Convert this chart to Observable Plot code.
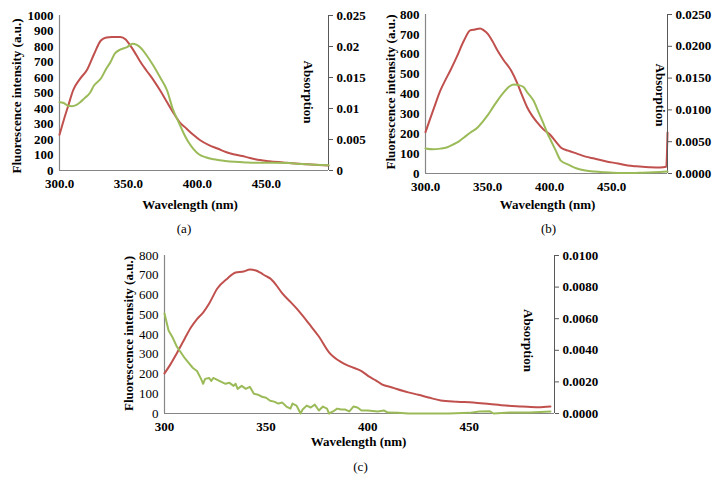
<!DOCTYPE html>
<html>
<head>
<meta charset="utf-8">
<script src="https://cdn.jsdelivr.net/npm/d3@7"></script>
<script src="https://cdn.jsdelivr.net/npm/@observablehq/plot@0.6"></script>
<style>
  html, body { margin: 0; padding: 0; background: #fff; }
  #root { position: relative; width: 720px; height: 495px; overflow: hidden; background: #fff; }
  #root svg { position: absolute; }
</style>
</head>
<body>
<div id="root"></div>
<script>
// ---------- Panel (a) ----------
const wlRedA = [300, 303, 306, 310, 315, 320, 325, 330, 334, 338, 344, 348, 351, 354, 358, 363, 368, 373, 378, 383, 387, 392, 397, 402, 408, 415, 421, 427, 435, 442, 452, 462, 471, 480, 488, 495];
const fluorA = [230, 323, 408, 520, 593, 650, 750, 839, 858, 862, 862, 845, 810, 770, 710, 645, 585, 516, 440, 366, 312, 271, 230, 195, 165, 140, 118, 103, 88, 72, 60, 52, 45, 40, 36, 32];
const wlGreenA = [300, 303, 306, 309, 312, 315, 318, 322, 325, 330, 334, 337, 340, 344, 349, 353, 356, 359, 363, 368, 373, 378, 382, 387, 390, 393, 397, 401, 406, 412, 420, 427, 435, 442, 455, 466, 476, 485, 495];
const absA = [0.0110, 0.01088, 0.01045, 0.01038, 0.01055, 0.0110, 0.01163, 0.0125, 0.0137, 0.01483, 0.01645, 0.0175, 0.01883, 0.0195, 0.0199, 0.02043, 0.02025, 0.01975, 0.01863, 0.01693, 0.0150, 0.0129, 0.0100, 0.0075, 0.0060, 0.00475, 0.0035, 0.00263, 0.00213, 0.0018, 0.00155, 0.0014, 0.0013, 0.00125, 0.00125, 0.0012, 0.00103, 0.00093, 0.00083];

// ---------- Panel (b) ----------
const wlRedB = [300, 304, 307, 312, 316, 320, 325, 331, 336, 340, 344, 347, 350, 354, 358, 363, 369, 374, 378, 382, 386, 390, 395, 401, 405, 409, 415, 422, 429, 436, 445, 455, 463, 470, 480, 489, 494, 495];
const fluorB = [208, 280, 333, 418, 470, 518, 584, 669, 720, 725, 730, 720, 704, 665, 619, 570, 518, 453, 390, 332, 290, 257, 222, 191, 160, 131, 115, 100, 85, 75, 62, 50, 40, 36, 32, 30, 34, 206];
const wlGreenB = [300, 306, 312, 317, 322, 327, 331, 336, 342, 346, 350, 354, 358, 363, 367, 371, 375, 379, 382, 385, 387, 391, 395, 398, 401, 405, 409, 415, 422, 429, 436, 445, 455, 463, 475, 489, 495];
const absB = [0.00394, 0.00381, 0.00391, 0.00409, 0.00453, 0.00506, 0.00566, 0.00641, 0.00722, 0.00813, 0.00913, 0.01031, 0.01147, 0.01275, 0.01359, 0.0140, 0.01391, 0.01359, 0.01275, 0.01203, 0.01147, 0.00969, 0.00788, 0.00641, 0.00519, 0.00359, 0.00203, 0.00141, 0.00078, 0.00047, 0.00031, 0.00019, 0.00009, 0.00006, 0.00013, 0.00025, 0.00031];

// ---------- Panel (c) ----------
const wlRedC = [300, 303, 306, 310, 313, 316, 319, 322, 326, 331, 335, 339, 342, 345, 347, 350, 352, 355, 358, 362, 365, 368, 371, 376, 381, 387, 391, 397, 401, 404, 407, 412, 420, 425, 430, 436, 444, 452, 460, 468, 476, 484, 490];
const fluorC = [203, 250, 304, 380, 435, 478, 511, 557, 633, 684, 714, 719, 729, 724, 714, 695, 684, 650, 608, 565, 532, 495, 456, 390, 310, 260, 240, 215, 185, 168, 148, 132, 107, 95, 81, 66, 60, 56, 48, 40, 36, 32, 36];
const wlGreenC = [300, 302, 304, 306, 308, 310, 312, 314, 316, 318, 319, 320, 322, 323, 324, 326, 328, 330, 332, 334, 335, 336, 338, 340, 342, 344, 346, 348, 350, 352, 354, 356, 358, 360, 362, 363, 365, 366, 367, 368, 370, 372, 374, 376, 378, 380, 381, 383, 385, 387, 389, 391, 393, 395, 397, 400, 405, 408, 410, 415, 420, 440, 450, 455, 460, 462, 470, 480, 490];
const absC = [0.00633, 0.00525, 0.00481, 0.00425, 0.00388, 0.0035, 0.00319, 0.00288, 0.00269, 0.00219, 0.00188, 0.00219, 0.00225, 0.00206, 0.00225, 0.00213, 0.002, 0.00188, 0.00194, 0.00175, 0.00188, 0.00156, 0.00175, 0.00156, 0.00169, 0.00125, 0.00119, 0.00106, 0.001, 0.00081, 0.00075, 0.00063, 0.00069, 0.00044, 0.00031, 0.00063, 0.0005, 0.00025, 0, 0.00025, 0.0005, 0.00038, 0.00056, 0.00019, 0.00044, 0.00031, 0, 0.00013, 0.00031, 0.00025, 0.00025, 0.00013, 0.00044, 0.00038, 0.00019, 0.00019, 0.00013, 0.00019, 0.00006, 0.00004, 0, 0, 0.00004, 0.00013, 0.00015, 0, 0.00006, 0.00006, 0.00013];

// ---------- Tick labels ----------
const xTicksAB = [300, 350, 400, 450];
const xTicksC = [300, 350, 400, 450];
const yTicksA = [0, 100, 200, 300, 400, 500, 600, 700, 800, 900, 1000];
const yTicksB = [0, 100, 200, 300, 400, 500, 600, 700, 800];
const yTicksC = [0, 100, 200, 300, 400, 500, 600, 700, 800];
const y2TicksA = [0, 0.005, 0.01, 0.015, 0.02, 0.025];
const y2TicksB = [0, 0.005, 0.01, 0.015, 0.02, 0.025];
const y2TicksC = [0, 0.002, 0.004, 0.006, 0.008, 0.01];

const RED = "#C0504D";
const GREEN = "#9BBB59";
const FONT = "'Liberation Serif', 'DejaVu Serif', serif";
const root = document.getElementById("root");

function panel(cfg) {
  const W = cfg.w, H = cfg.h;
  const base = {
    width: W, height: H,
    marginLeft: cfg.fl, marginRight: W - cfg.fr, marginTop: cfg.ft, marginBottom: H - cfg.fb,
    style: {background: "transparent", overflow: "visible", fontFamily: FONT, fontSize: "13px", color: "#000"}
  };
  const left = Plot.plot({
    ...base,
    x: {domain: cfg.xDomain, axis: null},
    y: {domain: cfg.yDomain, axis: null},
    marks: [
      Plot.axisY({ticks: cfg.yTicks, tickFormat: d => String(d), tickSize: 0, tickPadding: 6, label: null, fontWeight: cfg.yBold ? "bold" : "normal"}),
      Plot.axisX({ticks: cfg.xTicks, tickFormat: cfg.xFmt, tickSize: 0, tickPadding: 8, label: null, fontWeight: "bold"}),
      Plot.ruleX([cfg.xDomain[0]], {stroke: "#868686", strokeWidth: 1.2}),
      Plot.ruleY([0], {stroke: "#868686", strokeWidth: 1.2}),
      Plot.line(cfg.fluor, {x: cfg.wlRed, y: cfg.fluor, stroke: RED, strokeWidth: 2, curve: "monotone-x"}),
      Plot.text(["Fluorescence intensity (a.u.)"], {frameAnchor: "left", textAnchor: "middle", dx: cfg.fdx, dy: cfg.fdy, rotate: -90, fontWeight: "bold", fontSize: 13}),
      Plot.text(["Wavelength (nm)"], {frameAnchor: "bottom", dx: cfg.wdx, dy: cfg.wdy, fontWeight: "bold", fontSize: 13}),
      Plot.text([cfg.caption], {frameAnchor: "bottom", dx: cfg.cdx, dy: cfg.cdy, fontSize: 13})
    ]
  });
  const right = Plot.plot({
    ...base,
    x: {domain: cfg.xDomain, axis: null},
    y: {domain: cfg.y2Domain, axis: null},
    marks: [
      Plot.axisY({anchor: "right", ticks: cfg.y2Ticks, tickFormat: cfg.y2Fmt, tickSize: 4, tickPadding: 4, label: null, fontWeight: "bold", stroke: "#595959"}),
      Plot.ruleX([cfg.xDomain[1]], {stroke: "#595959", strokeWidth: 1}),
      Plot.line(cfg.abs, {x: cfg.wlGreen, y: cfg.abs, stroke: GREEN, strokeWidth: 2, curve: cfg.greenCurve}),
      Plot.text(["Absorption"], {frameAnchor: "right", textAnchor: "middle", dx: cfg.adx, dy: cfg.ady, rotate: 90, fontWeight: "bold", fontSize: 13})
    ]
  });
  for (const svg of [left, right]) {
    svg.style.left = cfg.x + "px";
    svg.style.top = cfg.y + "px";
    root.appendChild(svg);
  }
}

panel({
  x: 0, y: 0, w: 360, h: 245, fl: 59, fr: 328, ft: 15, fb: 170,
  xDomain: [300, 495], xTicks: xTicksAB, xFmt: d => d.toFixed(1),
  yDomain: [0, 1000], yTicks: yTicksA, yBold: true,
  y2Domain: [0, 0.025], y2Ticks: y2TicksA, y2Fmt: d => d === 0 ? "0" : String(+d.toFixed(3)),
  wlRed: wlRedA, fluor: fluorA, wlGreen: wlGreenA, abs: absA, greenCurve: "monotone-x",
  fdx: -43, fdy: 3, wdx: -4, wdy: 38, cdx: -10, cdy: 62, adx: -20, ady: -1,
  caption: "(a)"
});

panel({
  x: 360, y: 0, w: 360, h: 245, fl: 65, fr: 307, ft: 14, fb: 173,
  xDomain: [300, 495], xTicks: xTicksAB, xFmt: d => d.toFixed(1),
  yDomain: [0, 800], yTicks: yTicksB, yBold: true,
  y2Domain: [0, 0.025], y2Ticks: y2TicksB, y2Fmt: d => d.toFixed(4),
  wlRed: wlRedB, fluor: fluorB, wlGreen: wlGreenB, abs: absB, greenCurve: "monotone-x",
  fdx: -35, fdy: -2, wdx: 1, wdy: 35, cdx: 2, cdy: 59, adx: -7, ady: 1,
  caption: "(b)"
});

panel({
  x: 100, y: 245, w: 520, h: 250, fl: 64, fr: 454, ft: 10, fb: 168,
  xDomain: [300, 492], xTicks: xTicksC, xFmt: d => String(d),
  yDomain: [0, 800], yTicks: yTicksC, yBold: false,
  y2Domain: [0, 0.01], y2Ticks: y2TicksC, y2Fmt: d => d.toFixed(4),
  wlRed: wlRedC, fluor: fluorC, wlGreen: wlGreenC, abs: absC, greenCurve: "linear",
  fdx: -36, fdy: -1, wdx: -1, wdy: 32, cdx: 1, cdy: 57, adx: -26, ady: 6,
  caption: "(c)"
});
</script>
</body>
</html>
